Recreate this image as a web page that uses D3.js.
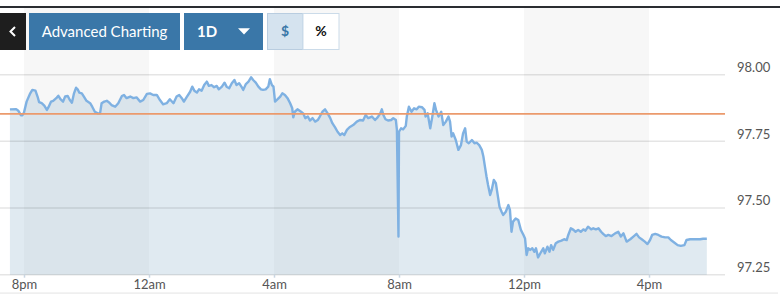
<!DOCTYPE html>
<html>
<head>
<meta charset="utf-8">
<script src="https://cdn.jsdelivr.net/npm/d3@7"></script>
<style>
  body { margin: 0; background: #fff; }
  svg { display: block; font-family: Lato, "Open Sans", sans-serif; }
</style>
</head>
<body>
<div id="chart"></div>
<script>
// minutes after 8pm, and price
var minutes = [-27,-15,-11,-6,-3,0,5,12,16,22,26,29,34,39,44,47,52,56,63,66,70,75,79,84,88,92,96,100,103,106,111,115,120,127,131,136,142,146,149,154,159,164,168,175,181,188,192,197,204,210,216,223,229,236,242,248,255,261,267,274,280,287,293,298,
  303,307,312,319,323,327,332,336,341,346,351,355,360,365,370,374,380,385,389,394,399,404,408,413,418,421,426,431,436,440,445,450,455,459,464,469,472,476,479,482,487,492,496,501,506,511,515,517,520,525,532,536,540,545,549,554,559,564,568,573,578,583,588,592,597,602,607,611,615,620,625,
  632,639,645,651,656,661,668,674,679,684,687,690,694,699,705,709,714,716,719,720,724,728,733,735,739,744,749,754,758,764,769,771,775,780,784,788,791,796,801,805,810,815,818,821,824,829,834,839,843,847,850,854,860,865,869,874,879,882,885,888,891,895,898,902,906,909,913,917,920,925,930,933,936,939,944,949,
  954,959,962,965,968,972,976,980,983,987,993,997,1000,1005,1009,1012,1016,1021,1026,1032,1037,1042,1045,1050,1055,1059,1064,1069,1074,1078,1083,1089,1093,1098,1103,1108,1112,1117,1122,1128,1135,1141,1146,1151,1157,1164,1170,1176,1181,1186,1192,1197,1202,1206,1212,1218,1224,1231,1237,1242,1249,1255,1261,1268,1272,1279,1288,1298,1304,1311];

var prices = [97.870,97.871,97.865,97.848,97.848,97.858,97.899,97.930,97.943,97.940,97.918,97.897,97.893,97.884,97.868,97.878,97.899,97.902,97.914,97.921,97.908,97.899,97.918,97.920,97.905,97.895,97.930,97.951,97.945,97.933,97.930,97.918,97.902,97.893,97.880,97.861,97.855,97.855,97.893,97.899,97.902,97.895,97.886,97.880,97.893,97.920,97.924,97.912,97.918,97.912,97.915,97.899,97.905,97.928,97.930,97.924,97.924,97.905,97.889,97.893,97.908,97.893,97.918,97.924,
  97.912,97.899,97.915,97.936,97.955,97.940,97.933,97.945,97.940,97.961,97.974,97.958,97.961,97.953,97.958,97.945,97.955,97.970,97.955,97.949,97.968,97.980,97.961,97.968,97.953,97.943,97.965,97.974,97.990,97.980,97.970,97.955,97.945,97.943,97.945,97.955,97.983,97.961,97.955,97.899,97.908,97.918,97.930,97.924,97.912,97.893,97.874,97.840,97.861,97.870,97.861,97.855,97.837,97.843,97.828,97.837,97.824,97.830,97.843,97.861,97.870,97.855,97.837,97.818,97.803,97.786,97.774,97.780,97.774,97.793,97.803,
  97.811,97.824,97.830,97.828,97.849,97.837,97.843,97.830,97.840,97.855,97.870,97.849,97.833,97.828,97.830,97.837,97.830,97.793,97.393,97.786,97.799,97.795,97.808,97.843,97.880,97.861,97.874,97.870,97.880,97.878,97.868,97.843,97.855,97.799,97.843,97.893,97.868,97.843,97.861,97.811,97.824,97.843,97.824,97.768,97.780,97.755,97.718,97.736,97.780,97.799,97.749,97.743,97.755,97.743,97.745,97.736,97.718,97.693,97.655,97.618,97.586,97.549,97.568,97.605,97.593,97.555,97.505,97.486,97.474,97.486,97.511,97.493,97.411,97.449,97.461,97.455,
  97.418,97.399,97.386,97.324,97.349,97.343,97.349,97.336,97.349,97.315,97.336,97.349,97.330,97.355,97.336,97.361,97.343,97.368,97.374,97.378,97.383,97.380,97.399,97.424,97.418,97.411,97.418,97.411,97.420,97.415,97.430,97.420,97.424,97.420,97.424,97.411,97.403,97.395,97.399,97.395,97.405,97.411,97.393,97.405,97.374,97.383,97.393,97.403,97.390,97.383,97.374,97.365,97.380,97.399,97.403,97.399,97.393,97.390,97.390,97.380,97.370,97.361,97.358,97.361,97.380,97.383,97.383,97.383,97.385,97.385];

var prevClose = 97.853;
var yTicks = [97.25, 97.50, 97.75, 98.00];
var bandStarts = [0, 8, 16];   // hours after 8pm that start a shaded 4h band

var W = 780, H = 308;
var plotTop = 8, plotBottom = 274.7, plotRight = 725;

var t0 = new Date(2024, 2, 4, 20, 0);
function at(m) { return new Date(t0.getTime() + m * 60000); }
var data = minutes.map(function(m, i) { return {t: at(m), v: prices[i]}; });

var svg = d3.select("#chart").append("svg")
  .attr("width", W).attr("height", H);

var x = d3.scaleTime()
  .domain([t0, at(22 * 60)])
  .range([24, 24 + 22 * 31.25]);

var y = d3.scaleLinear()
  .domain([97.25, 98.25])
  .range([plotBottom, plotTop]);

// shaded session bands
svg.selectAll("rect.band")
  .data(bandStarts)
  .enter().append("rect")
    .attr("class", "band")
    .attr("x", function(h) { return x(at(h * 60)); })
    .attr("width", function(h) { return x(at((h + 4) * 60)) - x(at(h * 60)); })
    .attr("y", plotTop)
    .attr("height", plotBottom - plotTop)
    .attr("fill", "#f7f7f7");

// area + line
var area = d3.area()
  .x(function(d) { return x(d.t); })
  .y0(y(97.25))
  .y1(function(d) { return y(d.v); });

var line = d3.line()
  .x(function(d) { return x(d.t); })
  .y(function(d) { return y(d.v); });

svg.append("path")
  .datum(data)
  .attr("d", area)
  .attr("fill", "rgba(131,171,199,0.25)");

// grid lines and labels
svg.selectAll("line.grid")
  .data(yTicks)
  .enter().append("line")
    .attr("class", "grid")
    .attr("x1", 0).attr("x2", plotRight)
    .attr("y1", function(d) { return y(d); })
    .attr("y2", function(d) { return y(d); })
    .attr("stroke", "rgba(0,0,0,0.1)")
    .attr("stroke-width", 1.5);

svg.selectAll("text.ylab")
  .data(yTicks)
  .enter().append("text")
    .attr("class", "ylab")
    .attr("x", 737)
    .attr("y", function(d) { return y(d) - 2.7; })
    .attr("fill", "#555")
    .style("font-size", "13px")
    .text(function(d) { return d.toFixed(2); });

svg.append("path")
  .datum(data)
  .attr("d", line)
  .attr("fill", "none")
  .attr("stroke", "#7fb1e2")
  .attr("stroke-width", 2.4)
  .attr("stroke-linejoin", "round");

// previous close
svg.append("line")
  .attr("x1", 0).attr("x2", plotRight)
  .attr("y1", y(prevClose)).attr("y2", y(prevClose))
  .attr("stroke", "#eb9a6c")
  .attr("stroke-width", 1.8);

// x axis
var fmt = d3.timeFormat("%-I%p");
var xAxis = svg.append("g")
  .attr("transform", "translate(0," + plotBottom + ")")
  .call(d3.axisBottom(x)
    .ticks(d3.timeHour.every(4))
    .tickSize(3)
    .tickPadding(2)
    .tickFormat(function(d) { return fmt(d).toLowerCase(); }));
xAxis.select(".domain").remove();
xAxis.selectAll(".tick line").attr("stroke", "#c9d6e3").attr("stroke-width", 1.5);
xAxis.selectAll(".tick text")
  .attr("fill", "#555")
  .style("font-size", "13px")
  .style("font-family", "Lato, sans-serif");

// bottom rule and top rule
svg.append("rect").attr("x", 0).attr("y", 292.5).attr("width", 778).attr("height", 1.2).attr("fill", "#e8e8e8");
svg.append("rect").attr("x", 0).attr("y", 6).attr("width", W).attr("height", 2).attr("fill", "#2a2d31");

// toolbar buttons
var bar = svg.append("g");
bar.append("rect").attr("x", 0).attr("y", 13).attr("width", 26).attr("height", 37).attr("fill", "#1e1e1e");
bar.append("path").attr("d", "M15,27 L10.5,31.5 L15,36").attr("fill", "none")
  .attr("stroke", "#fff").attr("stroke-width", 2);

bar.append("rect").attr("x", 29).attr("y", 13).attr("width", 151).attr("height", 37).attr("fill", "#3a77a8");
bar.append("text").attr("x", 104.5).attr("y", 37).attr("text-anchor", "middle")
  .attr("fill", "#fff").style("font-size", "15px").text("Advanced Charting");

bar.append("rect").attr("x", 184).attr("y", 13).attr("width", 79).attr("height", 37).attr("fill", "#3a77a8");
bar.append("text").attr("x", 207).attr("y", 37).attr("text-anchor", "middle")
  .attr("fill", "#fff").style("font-size", "15px").style("font-weight", "bold").text("1D");
bar.append("path").attr("d", "M238,28.3 L250,28.3 L244,34.5 Z").attr("fill", "#fff");

bar.append("rect").attr("x", 267.5).attr("y", 13.5).attr("width", 35.5).attr("height", 36)
  .attr("fill", "#d5e3ef").attr("stroke", "#b9cde0");
bar.append("text").attr("x", 285).attr("y", 36).attr("text-anchor", "middle")
  .attr("fill", "#3a77a8").style("font-size", "14px").style("font-weight", "bold").text("$");
bar.append("rect").attr("x", 303).attr("y", 13.5).attr("width", 36).attr("height", 36)
  .attr("fill", "#fff").attr("stroke", "#cbdbe9");
bar.append("text").attr("x", 321).attr("y", 36).attr("text-anchor", "middle")
  .attr("fill", "#111").style("font-size", "14px").style("font-weight", "bold").text("%");
</script>
</body>
</html>
